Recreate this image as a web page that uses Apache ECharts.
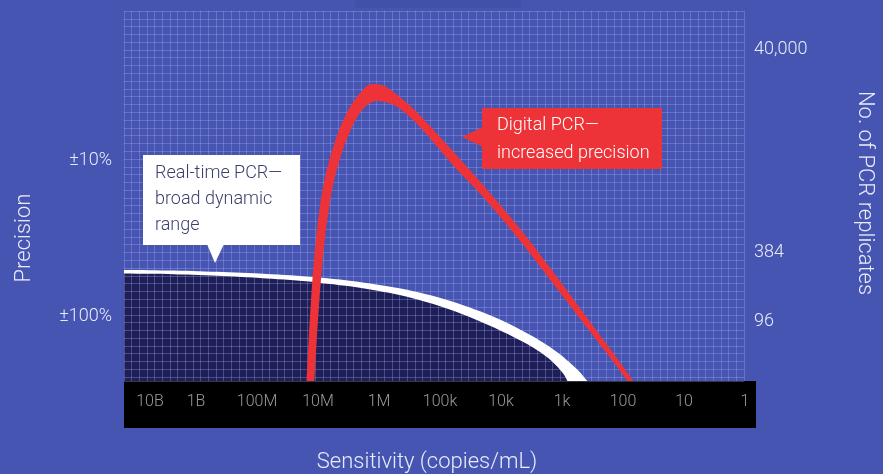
<!DOCTYPE html>
<html><head><meta charset="utf-8">
<script src="https://cdn.jsdelivr.net/npm/echarts@6/dist/echarts.min.js"></script>
<style>html,body{margin:0;padding:0;background:#4555b1}#c{width:883px;height:474px}</style>
</head><body><div id="c"></div>
<script>
// x = log10(copies/mL), y = schematic precision level (0..100)
const sensitivityLabels = ['1','10','100','1k','10k','100k','1M','10M','100M','1B','10B'];
const sensitivityTicks = [0,1,2,3,4,5,6,7,8,9,10];
const precisionTicks = [59.5, 17.3];
const precisionLabels = ['±10%', '±100%'];
const replicateTicks = [89.5, 34.6, 16.2];
const replicateLabels = ['40,000', '384', '96'];

// Real-time PCR curve: upper (white top edge) and lower (navy area top edge)
const realtimeUpper = [[10.28,30.0],[10.18,30.0],[9.754,29.95],[9.344,29.84],[8.934,29.68],[8.524,29.46],[8.114,29.19],[7.705,28.84],[7.295,28.43],[6.885,27.89],[6.475,27.22],[6.065,26.35],[5.655,25.27],[5.246,23.92],[4.836,22.16],[4.426,20.0],[4.016,17.43],[3.688,15.0],[3.360,12.16],[3.114,9.73],[2.901,7.30],[2.705,4.59],[2.573,2.57],[2.475,0.68],[2.410,-0.81]];
const realtimeLower = [[10.28,29.05],[10.18,29.05],[9.754,28.97],[9.344,28.84],[8.934,28.62],[8.524,28.35],[8.114,28.03],[7.705,27.62],[7.295,27.14],[6.885,26.51],[6.475,25.73],[6.065,24.73],[5.655,23.51],[5.246,21.89],[4.836,19.86],[4.426,17.43],[4.016,14.59],[3.688,12.03],[3.360,9.19],[3.114,6.49],[2.950,4.05],[2.836,1.89],[2.770,0],[2.737,-1.35]];

// Digital PCR curve: outer and inner edges of the red band
const digitalOuter = [[7.147,-2.97],[7.131,0],[7.095,11.08],[7.055,21.89],[7.006,32.70],[6.957,40.81],[6.891,48.92],[6.813,55.68],[6.701,62.43],[6.587,67.84],[6.475,71.89],[6.352,75.41],[6.221,78.11],[6.123,79.73],[6.033,80.27],[5.901,80.14],[5.770,79.19],[5.655,77.84],[5.393,74.32],[5.114,69.73],[4.672,61.89],[4.180,52.97],[3.573,41.35],[3.032,30.0],[2.377,15.68],[1.672,0],[1.607,-2.97]];
const digitalInner = [[7.016,-2.97],[7.000,0],[6.959,11.08],[6.914,21.89],[6.860,32.70],[6.806,40.81],[6.734,48.92],[6.647,55.68],[6.524,62.43],[6.393,67.84],[6.262,71.89],[6.139,74.32],[6.033,75.41],[5.934,75.68],[5.787,75.27],[5.623,74.19],[5.377,70.95],[5.114,66.49],[4.672,58.11],[4.180,49.73],[3.573,38.11],[3.032,26.76],[2.377,12.97],[1.770,0],[1.721,-2.43]];

const FONT = 'Roboto';
const BG = '#4555b1';
const GRIDC = 'rgba(185,180,255,0.30)';
const NAVY = '#1d1f56';
const RED = '#ee3338';
const LIGHT = '#e9ebf7';

function bandRenderer(upper, lower, color) {
  return function (params, api) {
    if (params.dataIndex !== 0) return null;
    const pts = upper.concat(lower.slice().reverse()).map(p => api.coord(p));
    return { type: 'polygon', shape: { points: pts, smooth: 0.3 }, style: { fill: color } };
  };
}

const chart = echarts.init(document.getElementById('c'), null, { renderer: 'canvas' });
const option = {
  backgroundColor: BG,
  animation: false,
  textStyle: { fontFamily: FONT, fontWeight: 300 },
  grid: [
    { left: 124, right: 127, top: 11, bottom: 93 },
    { left: 124, right: 127, top: 381, bottom: 42, show: true, backgroundColor: '#000', borderWidth: 0 }
  ],
  xAxis: [
    { gridIndex: 0, type: 'value', min: -0.18, max: 10.18, inverse: true, show: false },
    { gridIndex: 0, type: 'value', min: 0, max: 81, interval: 1, z: 2, position: 'top',
      axisLine: { show: false }, axisTick: { show: false }, axisLabel: { show: false },
      splitLine: { show: true, lineStyle: { color: GRIDC, width: 1 } } },
    { gridIndex: 1, type: 'value', min: -0.18, max: 10.18, inverse: true, position: 'bottom',
      axisLine: { show: false }, axisTick: { show: false }, splitLine: { show: false },
      axisLabel: {
        inside: true, margin: 18, customValues: sensitivityTicks,
        formatter: v => v === 10 ? '{s|' + sensitivityLabels[v] + '}' : sensitivityLabels[v],
        color: '#9a9a9a', fontSize: 16, fontFamily: FONT, fontWeight: 300,
        rich: { s: { padding: [0, 0, 0, 30], color: '#9a9a9a', fontSize: 16, fontFamily: FONT, fontWeight: 300 } }
      },
      name: 'Sensitivity (copies/mL)', nameLocation: 'middle', nameGap: 23,
      nameTextStyle: { color: LIGHT, fontSize: 22, fontFamily: FONT, fontWeight: 300, padding: [0, 26, 0, 0] }
    }
  ],
  yAxis: [
    { gridIndex: 0, type: 'value', min: 0, max: 100, position: 'left',
      axisLine: { show: false }, axisTick: { show: false }, splitLine: { show: false },
      axisLabel: { customValues: precisionTicks, formatter: v => precisionLabels[precisionTicks.indexOf(v)],
        color: LIGHT, fontSize: 18, margin: 12, fontFamily: FONT, fontWeight: 300 },
      name: 'Precision', nameLocation: 'middle', nameRotate: 90, nameGap: 89,
      nameTextStyle: { color: LIGHT, fontSize: 22, fontFamily: FONT, fontWeight: 300, padding: [0, 84, 0, 0] } },
    { gridIndex: 0, type: 'value', min: 0, max: 47.5, interval: 1, inverse: true, z: 2, position: 'left',
      axisLine: { show: false }, axisTick: { show: false }, axisLabel: { show: false },
      splitLine: { show: true, lineStyle: { color: GRIDC, width: 1 } } },
    { gridIndex: 0, type: 'value', min: 0, max: 100, position: 'right',
      axisLine: { show: false }, axisTick: { show: false }, splitLine: { show: false },
      axisLabel: { customValues: replicateTicks, formatter: v => replicateLabels[replicateTicks.indexOf(v)],
        color: LIGHT, fontSize: 18, margin: 10, fontFamily: FONT, fontWeight: 300 },
      name: 'No. of PCR replicates', nameLocation: 'middle', nameRotate: -90, nameGap: 109,
      nameTextStyle: { color: LIGHT, fontSize: 22, fontFamily: FONT, fontWeight: 300, padding: [0, 6, 0, 0] } },
    { gridIndex: 1, type: 'value', min: 0, max: 1, show: false }
  ],
  series: [
    { name: 'Real-time PCR area', type: 'line', xAxisIndex: 0, yAxisIndex: 0, z: 1,
      data: realtimeLower.map(p => [p[0], p[1] + 0.4]), smooth: true, showSymbol: false, clip: true,
      lineStyle: { width: 0 }, areaStyle: { color: NAVY, opacity: 1 } },
    { name: 'Real-time PCR', type: 'custom', xAxisIndex: 0, yAxisIndex: 0, z: 3, clip: true,
      data: realtimeUpper, renderItem: bandRenderer(realtimeUpper, realtimeLower, '#ffffff') },
    { name: 'Digital PCR', type: 'custom', xAxisIndex: 0, yAxisIndex: 0, z: 4, clip: true,
      data: digitalOuter, renderItem: bandRenderer(digitalOuter, digitalInner, RED) }
  ],
  graphic: [
    { type: 'rect', silent: true, z: -1, shape: { x: 355, y: 0, width: 166, height: 8 }, style: { fill: '#4151aa' } },
    { type: 'rect', z: 100, shape: { x: 143, y: 155, width: 157, height: 90 }, style: { fill: '#ffffff' } },
    { type: 'polygon', z: 100, shape: { points: [[207, 244], [224, 244], [215, 263]] }, style: { fill: '#ffffff' } },
    { type: 'text', z: 101, x: 155, y: 160, style: { text: 'Real-time PCR—\nbroad dynamic\nrange', fill: '#3b3e6b',
        font: '300 18px ' + FONT, lineHeight: 26, verticalAlign: 'top' } },
    { type: 'rect', z: 100, shape: { x: 482, y: 108, width: 180, height: 61 }, style: { fill: RED } },
    { type: 'polygon', z: 100, shape: { points: [[483, 127], [483, 147], [462, 137]] }, style: { fill: RED } },
    { type: 'text', z: 101, x: 497, y: 111, style: { text: 'Digital PCR—\nincreased precision', fill: '#ffffff',
        font: '300 18px ' + FONT, lineHeight: 28, verticalAlign: 'top' } }
  ]
};
chart.setOption(option);
</script></body></html>
